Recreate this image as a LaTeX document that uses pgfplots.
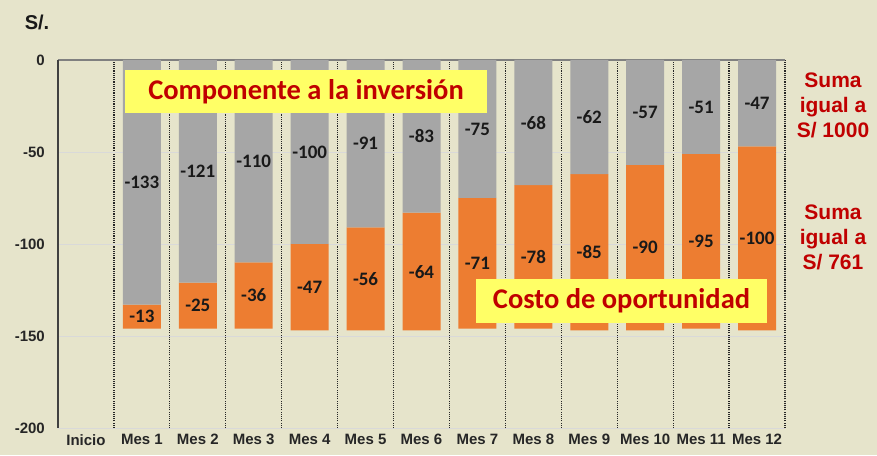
\documentclass[border=0pt]{standalone}
\usepackage{pgfplots}
\pgfplotsset{compat=1.18}
\usepackage{pgfplotstable}
\usepackage{fontspec}
\setmainfont{Liberation Sans}
\newfontfamily\calib{Carlito}
\definecolor{bg}{HTML}{E6E4CB}
\definecolor{barg}{HTML}{A6A6A6}
\definecolor{baro}{HTML}{ED7D31}
\definecolor{redt}{HTML}{C00000}
\definecolor{yel}{HTML}{FFFF66}
\pgfplotstableread{
x gray orange
1 -133 -13
2 -121 -25
3 -110 -36
4 -100 -47
5 -91 -56
6 -83 -64
7 -75 -71
8 -68 -78
9 -62 -85
10 -57 -90
11 -51 -95
12 -47 -100
}\data
\begin{document}
\begin{tikzpicture}
\fill[bg] (0pt,0pt) rectangle (877pt,455pt);
\begin{axis}[
 at={(58pt,27pt)}, anchor=south west,
 scale only axis, width=727pt, height=368pt,
 xmin=-0.5, xmax=12.5, ymin=-200, ymax=0,
 ytick={0,-50,-100,-150,-200},
 xtick={0,...,12},
 xticklabels={Inicio,Mes 1,Mes 2,Mes 3,Mes 4,Mes 5,Mes 6,Mes 7,Mes 8,Mes 9,Mes 10,Mes 11,Mes 12},
 minor xtick={0.5,1.5,...,12.5},
 xminorgrids, ymajorgrids,
 major grid style={draw=black!15, line width=0.8pt},
 minor grid style={black!85, dash pattern=on 1.1pt off 1.1pt, line width=1.3pt},
 major tick length=0pt, minor tick length=0pt,
 axis line style={draw=none},
 ticklabel style={font=\bfseries\fontsize{15}{18}\selectfont, text=black!85},
 yticklabel style={anchor=east, inner sep=0pt, xshift=-13pt},
 xticklabel style={anchor=north, inner sep=0pt, yshift=-6pt},
 /pgf/number format/assume math mode=true,
 ybar stacked, bar width=38pt,
 clip=false,
]
\addplot[fill=barg, draw=none] table[x=x,y=gray]{\data};
\addplot[fill=baro, draw=none] table[x=x,y=orange]{\data};
\draw[black!75, line width=1.3pt] (rel axis cs:0,0) -- (rel axis cs:0,1);
\draw[black!50, line width=1.3pt] (rel axis cs:0,1) -- (rel axis cs:1,1);
\end{axis}
\begin{axis}[
 at={(58pt,27pt)}, anchor=south west,
 scale only axis, width=727pt, height=368pt,
 xmin=-0.5, xmax=12.5, ymin=-200, ymax=0,
 hide axis, clip=false,
]
\addplot[only marks, mark=*, mark size=0pt, mark options={draw=none,fill=none},
  nodes near coords, point meta=explicit symbolic,
  every node near coord/.append style={anchor=center, text=black!90, font=\calib\bfseries\fontsize{19}{22}\selectfont}]
  table[x=x, y expr=\thisrow{gray}/2, meta=gray]{\data};
\addplot[only marks, mark=*, mark size=0pt, mark options={draw=none,fill=none},
  nodes near coords, point meta=explicit symbolic,
  every node near coord/.append style={anchor=center, text=black!90, font=\calib\bfseries\fontsize{19}{22}\selectfont}]
  table[x=x, y expr=\thisrow{gray}+\thisrow{orange}/2, meta=orange]{\data};
\end{axis}
\node[fill=yel, minimum width=362pt, minimum height=43pt, inner sep=0pt, text=redt,
  font=\calib\bfseries\fontsize{28.5}{32}\selectfont] at (306pt,363.5pt) {Componente a la inversión};
\node[fill=yel, minimum width=291pt, minimum height=44pt, inner sep=0pt, text=redt,
  font=\calib\bfseries\fontsize{28.5}{32}\selectfont] at (621.5pt,154pt) {Costo de oportunidad};
\node[align=center, text=redt, font=\bfseries\fontsize{21}{25}\selectfont] at (833pt,350pt) {Suma\\igual a\\S/ 1000};
\node[align=center, text=redt, font=\bfseries\fontsize{21}{25}\selectfont] at (833pt,218pt) {Suma\\igual a\\S/ 761};
\node[text=black!90, font=\bfseries\fontsize{20}{24}\selectfont] at (37pt,433pt) {S/.};
\end{tikzpicture}
\end{document}
